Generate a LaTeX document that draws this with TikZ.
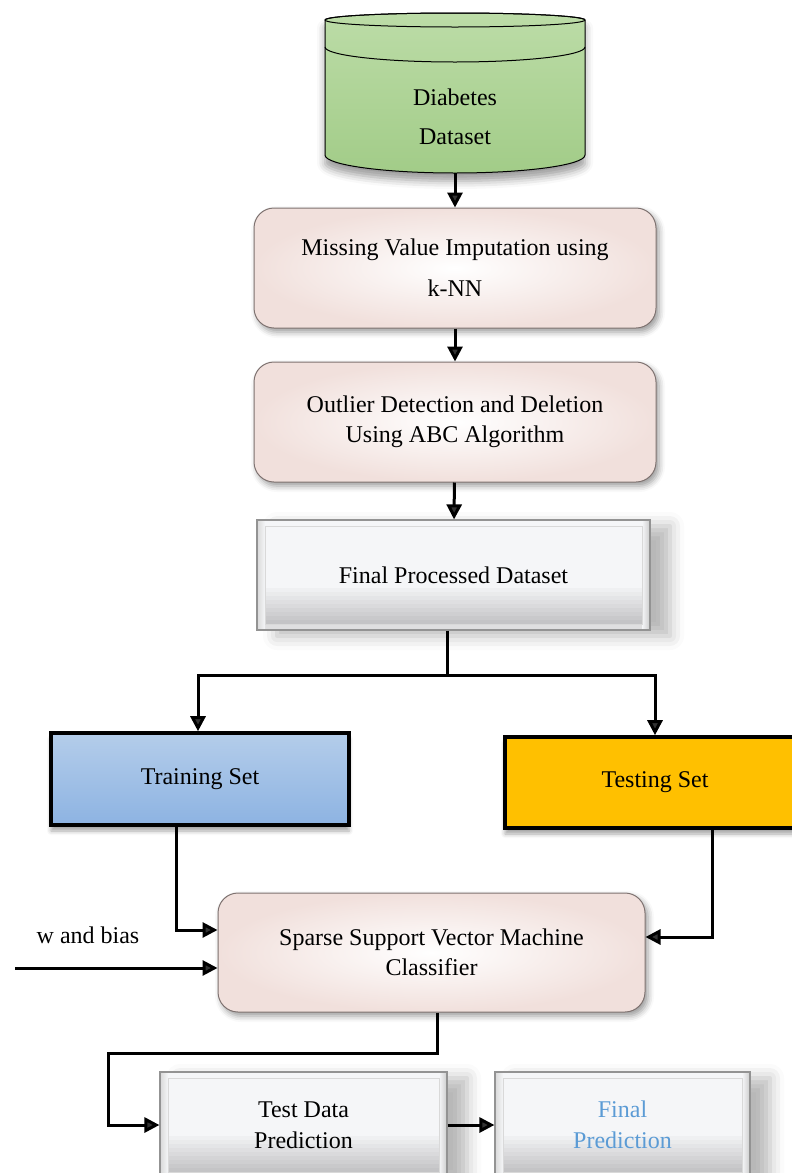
\documentclass[tikz,border=0pt]{standalone}
\usepackage{fontspec}
\setmainfont{Liberation Serif}
\usetikzlibrary{arrows.meta,shadows.blur}

\definecolor{dbtop}{HTML}{BCDCA7}
\definecolor{dbbot}{HTML}{A2CC88}
\definecolor{boxpink}{HTML}{F1E0DC}
\definecolor{boxedge}{HTML}{7E7270}
\definecolor{bevelface}{HTML}{F5F6F8}
\definecolor{beveldark}{HTML}{C4C4C6}
\definecolor{traintop}{HTML}{B4CDEA}
\definecolor{trainbot}{HTML}{8DB3E2}
\definecolor{testfill}{HTML}{FFC000}
\definecolor{predblue}{HTML}{5B9BD5}

\tikzset{
  flow/.style={-{Triangle[length=7.5pt,width=7.5pt]}, line width=1.5pt},
  roundbox/.style={draw=boxedge, line width=0.5pt, rounded corners=10pt,
    shading=radial, inner color=white, outer color=boxpink, align=center,
    blur shadow={shadow xshift=1.5pt, shadow yshift=-2pt, shadow blur radius=3pt, shadow opacity=40}},
  bevelbox/.style={draw=gray!85, line width=0.6pt, fill=bevelface, align=center,
    blur shadow={shadow xshift=10pt, shadow yshift=-3pt, shadow blur radius=7pt, shadow opacity=28},
    path picture={
      % darker lower band, built up strip by strip
      \foreach \k [evaluate=\k as \pct using int(\k*11)] in {0,...,9}
        \fill[bevelface!\pct!beveldark]
          ([yshift=\k*2pt+3pt]path picture bounding box.south west) rectangle ([yshift=\k*2pt+5.2pt]path picture bounding box.south east);
      \fill[beveldark!55!white]
        (path picture bounding box.south west) rectangle ([yshift=3pt]path picture bounding box.south east);
      % side bevels
      \shade[left color=bevelface, right color=gray!40]
        ([xshift=-4pt]path picture bounding box.south east) rectangle (path picture bounding box.north east);
      \shade[left color=gray!30, right color=bevelface]
        (path picture bounding box.south west) rectangle ([xshift=4pt]path picture bounding box.north west);
      \draw[gray!30, line width=0.4pt]
        ([shift={(4pt,3pt)}]path picture bounding box.south west) rectangle ([shift={(-4pt,-3pt)}]path picture bounding box.north east);
    }},
  setbox/.style={draw=black, line width=1.8pt, align=center,
    blur shadow={shadow xshift=0pt, shadow yshift=-3pt, shadow blur radius=2pt, shadow opacity=35}},
}

\begin{document}
\begin{tikzpicture}[x=0.5pt, y=-0.5pt, every node/.style={font=\fontsize{12}{15}\selectfont}]
\useasboundingbox (0,0) rectangle (792,1173);
\clip (0,0) rectangle (792,1173);

% data store
\shade[top color=dbtop, bottom color=dbbot, draw=black, line width=0.5pt,
  blur shadow={shadow xshift=0pt, shadow yshift=-4pt, shadow blur radius=4pt, shadow opacity=40}]
  (325,20) -- (325,155) arc[start angle=180, end angle=360, x radius=65pt, y radius=9pt]
  -- (585,20) arc[start angle=0, end angle=180, x radius=65pt, y radius=3.5pt] -- cycle;
\draw[line width=0.5pt] (455,20) ellipse [x radius=65pt, y radius=3.5pt];
\draw[line width=0.5pt] (325,47) arc[start angle=180, end angle=360, x radius=65pt, y radius=7.5pt];
\node[align=center] (db) at (455,117) {Diabetes\\[4.5pt]Dataset};
\coordinate (dbbase) at (455,173);

\node[roundbox, minimum width=201pt, minimum height=60pt] (impute) at (455,268) {Missing Value Imputation using\\[5.5pt]k-NN};
\node[roundbox, minimum width=201pt, minimum height=60pt] (outlier) at (455,422) {Outlier Detection and Deletion\\Using ABC Algorithm};
\node[bevelbox, minimum width=196.5pt, minimum height=55pt] (final) at (453.5,575) {Final Processed Dataset};

\node[setbox, top color=traintop, bottom color=trainbot, minimum width=149pt, minimum height=46pt] (train) at (200,779) {Training Set};
% runs past the right edge of the page
\node[setbox, fill=testfill, minimum width=170pt, minimum height=45.5pt] (test) at (675,782.5) {Testing Set\hspace*{20pt}};

\node[roundbox, minimum width=213.5pt, minimum height=59.5pt] (ssvm) at (431.5,952.5) {Sparse Support Vector Machine\\Classifier};
\node (wbias) at (88,935) {w and bias};
\coordinate (wfeed) at (15,968);

\node[bevelbox, minimum width=143.5pt, minimum height=53pt] (tdp) at (303.5,1125) {Test Data\\[0.5pt]Prediction};
\node[bevelbox, text=predblue, minimum width=127.5pt, minimum height=53pt] (fp) at (622.5,1125) {Final\\[0.5pt]Prediction};

\draw[flow] (dbbase) -- (impute.north);
\draw[flow] (impute) -- (outlier);
\draw[flow] (outlier) -- (final);

\coordinate (split) at (447,675);
\draw[line width=1.5pt] (final.south -| split) -- (split);
\draw[flow] (split) -| ([xshift=-1pt]train.north);
\draw[flow] (split) -| ([xshift=-10pt]test.north);

\draw[flow] ([xshift=-12pt]train.south) |- ([yshift=11.25pt]ssvm.west);
\draw[flow] (wfeed) -- (wfeed -| ssvm.west);
\draw[flow] ([xshift=18.5pt]test.south) |- ([yshift=7.75pt]ssvm.east);

\coordinate (loop) at (108,1053);
\draw[flow] ([xshift=2.75pt]ssvm.south) |- (loop) |- (tdp.west);
\draw[flow] (tdp) -- (fp);
\end{tikzpicture}
\end{document}
